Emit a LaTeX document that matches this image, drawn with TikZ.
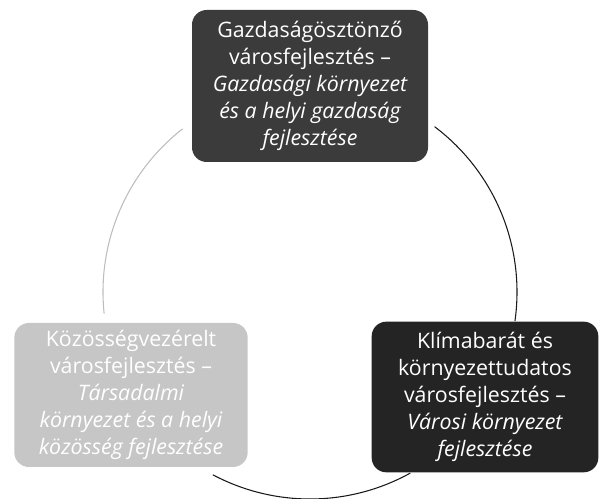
\documentclass[tikz,border=0pt]{standalone}
\usepackage{fontspec}
\setmainfont{Open Sans}
\usepackage{xcolor}
\usepackage{tikz}
\usetikzlibrary{calc}
\definecolor{boxdark}{HTML}{3B3B3B}
\definecolor{boxdeep}{HTML}{242424}
\definecolor{boxpale}{HTML}{C6C6C6}
\definecolor{ringpale}{HTML}{BDBDBD}
\definecolor{ringink}{HTML}{1A1A1A}
\tikzset{
  pillar/.style     = {rectangle, rounded corners=11pt, align=center, text=white,
                       inner sep=3pt, font=\fontsize{16}{20.3}\selectfont},
  pillardark/.style = {pillar, fill=boxdark, minimum width=177pt, minimum height=114pt},
  pillardeep/.style = {pillar, fill=boxdeep, minimum width=170pt, minimum height=113pt},
  pillarpale/.style = {pillar, fill=boxpale, minimum width=175pt, minimum height=108pt},
  ring/.style       = {draw=ringink, line width=0.8pt},
  ringsoft/.style   = {ring, draw=ringpale},
}

\begin{document}
\begin{tikzpicture}[x=0.75pt, y=0.75pt]
  \useasboundingbox (0,0) rectangle (600,499);
  \coordinate (hub) at (310,207);

  \node[pillardark] (econ) at (310,413)
    {Gazdaságösztönző\\városfejlesztés --\\\itshape Gazdasági környezet\\\itshape és a helyi gazdaság\\\itshape fejlesztése};
  \node[pillardeep] (clim) at (485,102)
    {Klímabarát és\\környezettudatos\\városfejlesztés --\\\itshape Városi környezet\\\itshape fejlesztése};
  \node[pillarpale] (comm) at (131,104)
    {Közösségvezérelt\\városfejlesztés --\\\itshape Társadalmi\\\itshape környezet és a helyi\\\itshape közösség fejlesztése};

  % arcs of the ring between the three boxes
  \draw[ring]     ($(hub)+(53:207)$)   arc[start angle=53,   end angle=-8,   radius=207];
  \draw[ring]     ($(hub)+(-61:207)$)  arc[start angle=-61,  end angle=-118, radius=207];
  \draw[ringsoft] ($(hub)+(128:207)$)  arc[start angle=128,  end angle=186,  radius=207];
\end{tikzpicture}
\end{document}
